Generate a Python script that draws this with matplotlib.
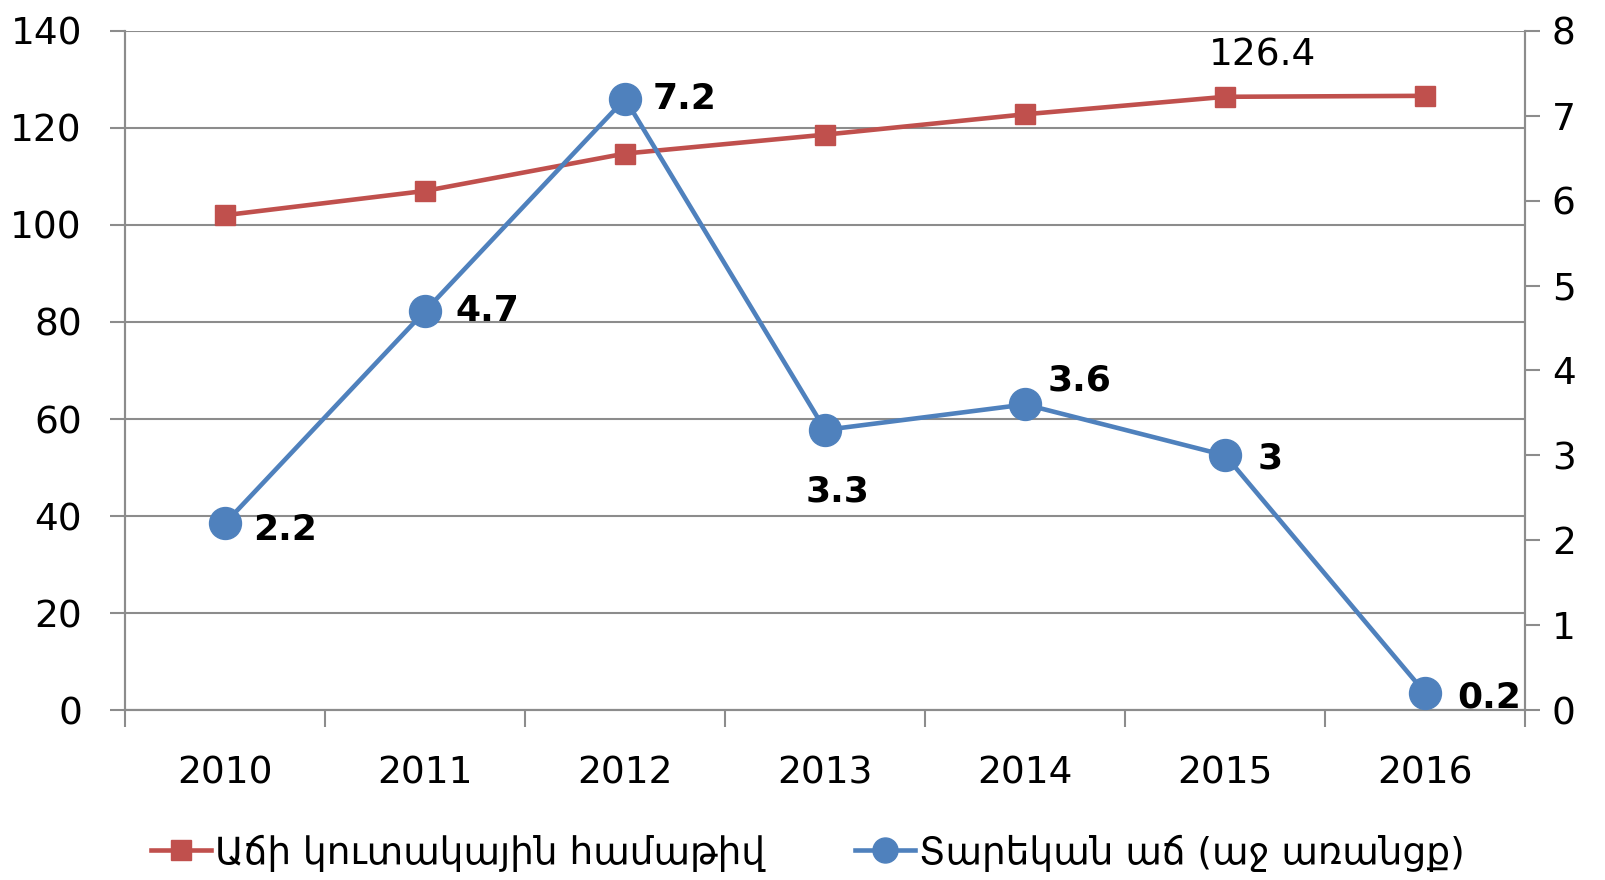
# Cumulative growth index and annual growth, 2010-2016
import matplotlib
matplotlib.use("Agg")
import matplotlib.pyplot as plt
from matplotlib import font_manager

# DATA
years = ["2010", "2011", "2012", "2013", "2014", "2015", "2016"]
index_cum = [102.0, 107.0, 114.7, 118.6, 122.8, 126.4, 126.6]   # left axis
growth = [2.2, 4.7, 7.2, 3.3, 3.6, 3.0, 0.2]                   # right axis
growth_labels = ["2.2", "4.7", "7.2", "3.3", "3.6", "3", "0.2"]

label_red = "Աճի կուտակային համաթիվ"
label_blue = "Տարեկան աճ (աջ առանցք)"

RED = "#C0504D"
BLUE = "#4F81BD"
GRID = "#8C8C8C"

# narrow digits if available, DejaVu for Armenian
names = {f.name for f in font_manager.fontManager.ttflist}
num_font = "Liberation Sans Narrow" if "Liberation Sans Narrow" in names else "DejaVu Sans"

fig = plt.figure(figsize=(16.06, 8.8), dpi=100)
ax = fig.add_axes([0.0778, 0.193, 0.872, 0.772])
ax2 = ax.twinx()

x = list(range(len(years)))

ax.plot(x, index_cum, color=RED, lw=3.3, marker="s", ms=14, zorder=3)
ax2.plot(x, growth, color=BLUE, lw=3.3, marker="o", ms=23, zorder=3)

# left axis
ax.set_xlim(-0.5, 6.5)
ax.set_ylim(0, 140)
ax.set_yticks(range(0, 141, 20))
ax.yaxis.grid(True, color=GRID, lw=1.5)
ax.set_axisbelow(True)
ax.tick_params(axis="y", length=11, width=1.5, color=GRID, pad=20,
               labelsize=27)
ax.set_xticks([i - 0.5 for i in range(8)], minor=False)
ax.set_xticklabels([])
ax.set_xticks(x, minor=True)
ax.set_xticklabels(years, minor=True)
ax.tick_params(axis="x", which="major", length=12, width=1.5, color=GRID)
ax.tick_params(axis="x", which="minor", length=0, pad=33, labelsize=27)

# right axis
ax2.set_ylim(0, 8)
ax2.set_yticks(range(0, 9))
ax2.tick_params(axis="y", length=11, width=1.5, color=GRID, pad=8,
                labelsize=27)

for a in (ax, ax2):
    a.spines["top"].set_visible(False)
    for s in ("left", "right", "bottom"):
        a.spines[s].set_color(GRID)
        a.spines[s].set_linewidth(1.5)
    for lab in a.get_yticklabels() + a.get_xticklabels(minor=True):
        lab.set_family(num_font)

# labels
ax.annotate("126.4", (5, index_cum[5]), xytext=(27, 30), textcoords="offset points",
            ha="center", va="center", fontsize=27, family=num_font)

offsets = [(20, -5), (22, 0), (20, 0), (9, -44), (16, 17), (23, -2), (23, -3)]
for i, (v, t) in enumerate(zip(growth, growth_labels)):
    dx, dy = offsets[i]
    ha = "center" if i == 3 else "left"
    ax2.annotate(t, (i, v), xytext=(dx, dy), textcoords="offset points",
                 ha=ha, va="center", fontsize=26, fontweight="bold",
                 family=num_font, zorder=5)

h1 = plt.Line2D([], [], color=RED, lw=3.3, marker="s", ms=14)
h2 = plt.Line2D([], [], color=BLUE, lw=3.3, marker="o", ms=18)
fig.legend([h1, h2], [label_red, label_blue], loc="center",
           bbox_to_anchor=(0.503, 1 - 853 / 880), ncol=2, frameon=False,
           prop={"family": "DejaVu Sans", "size": 27}, handlelength=1.6,
           handletextpad=0.1, columnspacing=2.4)

fig.savefig("out.png", dpi=100)
